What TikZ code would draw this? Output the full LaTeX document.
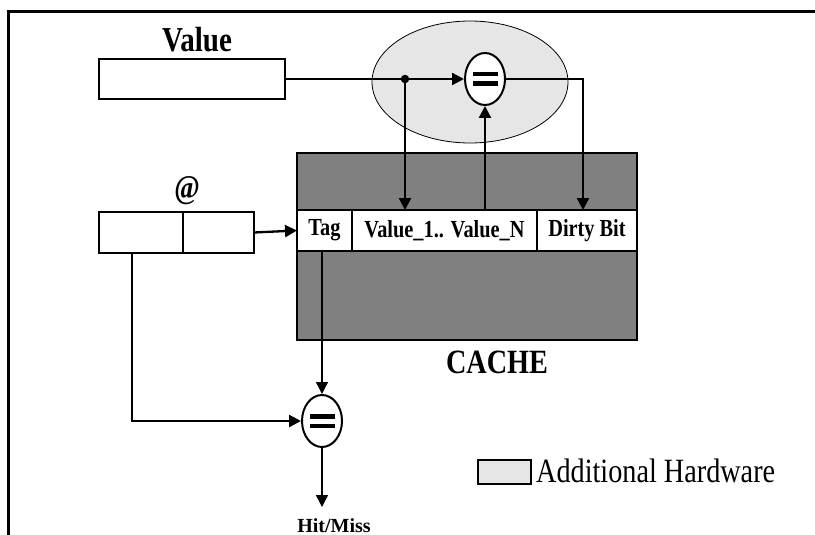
\documentclass[tikz,border=0pt]{standalone}
\usepackage{fontspec}
\setmainfont[FakeStretch=0.83]{Liberation Serif}
\newfontfamily\plainserif{Liberation Serif}
\usetikzlibrary{shapes.geometric,arrows.meta}
\definecolor{cachegray}{RGB}{128,128,128}
\definecolor{hwgray}{RGB}{230,230,230}
\begin{document}
\begin{tikzpicture}[x=1pt,y=-1pt,
  box/.style={draw, line width=2.2pt, fill=white, inner sep=0pt, outer sep=0pt},
  cell/.style={draw, line width=2.2pt, fill=white, inner sep=0pt, outer sep=0pt, minimum height=41pt, font=\fontsize{24.5}{28}\selectfont\bfseries},
  arr/.style={line width=2.3pt, -{Triangle[length=12pt,width=12pt]}},
  thinarr/.style={line width=1.4pt, -{Triangle[length=12pt,width=12pt]}},
  eqnode/.style={ellipse, draw, line width=2pt, fill=white, minimum width=40pt, minimum height=52pt, inner sep=0pt,
    path picture={
      \fill[black] ([xshift=-12.5pt,yshift=2.5pt]path picture bounding box.center) rectangle ([xshift=12.5pt,yshift=7pt]path picture bounding box.center);
      \fill[black] ([xshift=-12.5pt,yshift=-2.5pt]path picture bounding box.center) rectangle ([xshift=12.5pt,yshift=-7pt]path picture bounding box.center);}},
  lbl/.style={inner sep=0pt, anchor=base}
]
\useasboundingbox (0,0) rectangle (815,535);
% frame
\draw[line width=3pt] (8,535) -- (8,12) -- (815,12);

% additional hardware ellipse
\node[ellipse, draw, line width=0.8pt, fill=hwgray, minimum width=196pt, minimum height=122pt, inner sep=0pt] (hw) at (470,82) {};

% value register
\node[box, minimum width=186pt, minimum height=40pt] (valbox) at (192,79) {};
\node[lbl, font=\fontsize{35}{40}\selectfont\bfseries] (valuelbl) at (197,52) {Value};

% comparator 1
\node[eqnode] (eq1) at (485,79) {};
\node[circle, fill=black, inner sep=0pt, minimum size=8.5pt] (split) at (405,79) {};

% cache
\node[draw, line width=2.5pt, fill=cachegray, inner sep=0pt, minimum width=340pt, minimum height=187pt] (cache) at (467,246.5) {};
\node[cell, minimum width=55pt] (tagcell) at (324.5,230.5) {Tag};
\node[cell, minimum width=185pt] (valcell) at (444.5,230.5) {Value\_1.. Value\_N};
\node[cell, minimum width=100pt] (dirtycell) at (587,230.5) {Dirty Bit};
\node[lbl, font=\fontsize{34}{40}\selectfont\bfseries] (cachelbl) at (497,373) {CACHE};

% address register
\node[box, minimum width=84pt, minimum height=41pt] (atleft) at (141,232.5) {};
\node[box, minimum width=71pt, minimum height=41pt] (atright) at (218.5,232.5) {};
\node[lbl, font=\fontsize{33}{38}\selectfont\bfseries] (atlbl) at (187,198) {@};

% comparator 2
\node[eqnode] (eq2) at (322,421) {};
\coordinate (hmtip) at (322,507);
\node[lbl, font=\plainserif\fontsize{20}{24}\selectfont\bfseries] (hm) at (334,532) {Hit/Miss};

% legend
\node[draw, line width=2pt, fill=hwgray, inner sep=0pt, minimum width=53pt, minimum height=24pt] (legbox) at (504.5,472) {};
\node[inner sep=0pt, anchor=base west, font=\fontsize{34}{38}\selectfont] (legtext) at (536,482) {Additional Hardware};

% connectors
\draw[arr] (valbox.east) -- (eq1.west);
\draw[arr] (split.center) -- (split.center |- valcell.north);
\draw[arr] (eq1.south |- valcell.north) -- (eq1.south);
\draw[arr] (eq1.east) -| ([xshift=-4pt]dirtycell.north);
\draw[arr] (atright.east) -- (tagcell.west);
\draw[arr] ([xshift=-9pt]atleft.south) |- (eq2.west);
\draw[thinarr] (eq2.north |- tagcell.south) -- (eq2.north);
\draw[thinarr] (eq2.south) -- (hmtip);
\end{tikzpicture}
\end{document}
